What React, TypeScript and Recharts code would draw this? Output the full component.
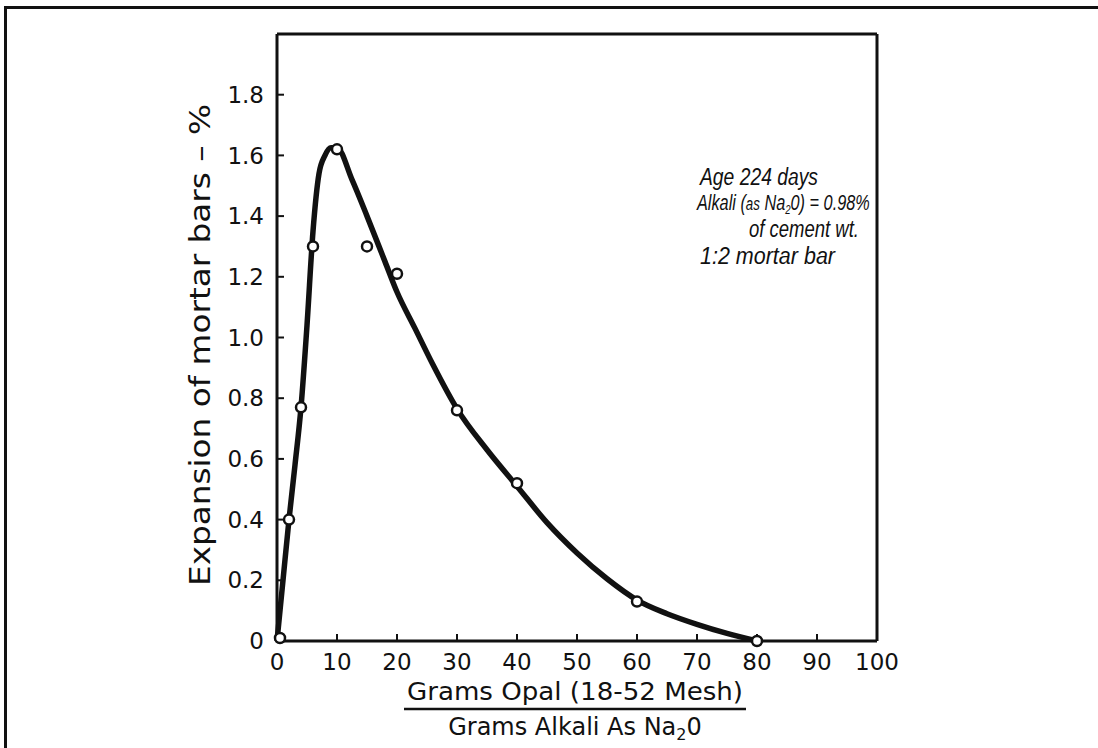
import React from "react";
import {
  ComposedChart,
  Line,
  Scatter,
  XAxis,
  YAxis,
} from "recharts";

// measured points (open circles)
const pointX = [0.5, 2, 4, 6, 10, 15, 20, 30, 40, 60, 80];
const pointY = [0.01, 0.4, 0.77, 1.3, 1.62, 1.3, 1.21, 0.76, 0.52, 0.13, 0.0];

// hand-drawn curve
const curveX = [0, 1, 2, 3, 4, 5, 6, 7, 8, 9, 10, 12.5, 15, 18, 20, 23, 26, 30, 35, 40, 45, 50, 55, 60, 65, 70, 75, 80];
const curveY = [0, 0.2, 0.4, 0.58, 0.77, 1.04, 1.35, 1.54, 1.6, 1.625, 1.625, 1.52, 1.4, 1.25, 1.15, 1.03, 0.91, 0.765, 0.63, 0.51, 0.39, 0.29, 0.205, 0.135, 0.09, 0.055, 0.025, 0];

const xTicks = [0, 10, 20, 30, 40, 50, 60, 70, 80, 90, 100];
const yTicks = [0, 0.2, 0.4, 0.6, 0.8, 1.0, 1.2, 1.4, 1.6, 1.8];

const points = pointX.map((x, i) => ({ x, y: pointY[i] }));
const curve = curveX.map((x, i) => ({ x, y: curveY[i] }));

const FONT = "'DejaVu Sans', Verdana, sans-serif";
const NOTE_FONT = "'Liberation Sans', Arial, sans-serif";
const INK = "#111";

function XTitle(props: any) {
  const vb = props.viewBox || {};
  const cx = vb.x + vb.width / 2 - 2;
  const top = vb.y;
  return (
    <g fontFamily={FONT} fill={INK}>
      <text x={cx} y={top + 59} fontSize={24} textAnchor="middle" textLength={336} lengthAdjust="spacingAndGlyphs">
        Grams  Opal (18-52 Mesh)
      </text>
      <line x1={cx - 171} x2={cx + 171} y1={top + 68} y2={top + 68} stroke={INK} strokeWidth={2.5} />
      <text x={cx} y={top + 94} fontSize={24} textAnchor="middle">
        Grams Alkali  As Na<tspan fontSize={16} dy={5}>2</tspan><tspan dy={-5}>0</tspan>
      </text>
    </g>
  );
}

function YTitle() {
  const cx = 200;
  const cy = 345;
  return (
    <text
      x={cx}
      y={cy}
      fontFamily={FONT}
      fontSize={29}
      fill={INK}
      textAnchor="middle"
      dominantBaseline="central"
      textLength={482}
      lengthAdjust="spacingAndGlyphs"
      transform={`rotate(-90 ${cx} ${cy})`}
    >
      Expansion of mortar bars – %
    </text>
  );
}

const Dot = (p: any) => (
  <circle cx={p.cx} cy={p.cy} r={5} fill="#fff" stroke={INK} strokeWidth={2.5} />
);

export default function App() {
  return (
    <div style={{ position: "fixed", left: 0, top: 0, width: 1098, height: 748, background: "#fff" }}>
      <div
        style={{
          position: "absolute",
          left: 4,
          top: 6,
          right: 0,
          bottom: 0,
          borderTop: `3px solid ${INK}`,
          borderLeft: `3px solid ${INK}`,
        }}
      />
      <ComposedChart
        width={1098}
        height={748}
        margin={{ top: 33, right: 220, bottom: 77, left: 217 }}
        style={{ position: "absolute", left: 0, top: 0 }}
      >
        <XAxis
          xAxisId="b"
          dataKey="x"
          type="number"
          domain={[0, 100]}
          ticks={xTicks}
          interval={0}
          height={30}
          tickSize={-7}
          tickMargin={20}
          tick={{ fill: INK, fontSize: 23, fontFamily: FONT }}
          axisLine={{ stroke: INK, strokeWidth: 3 }}
          tickLine={{ stroke: INK, strokeWidth: 2 }}
          label={{ content: XTitle }}
        />
        <XAxis
          xAxisId="t"
          orientation="top"
          dataKey="x"
          type="number"
          domain={[0, 100]}
          ticks={xTicks}
          interval={0}
          height={1}
          tickSize={-7}
          tick={false}
          axisLine={{ stroke: INK, strokeWidth: 3 }}
          tickLine={{ stroke: INK, strokeWidth: 2 }}
        />
        <YAxis
          yAxisId="l"
          dataKey="y"
          type="number"
          domain={[0, 2]}
          ticks={yTicks}
          interval={0}
          width={60}
          tickSize={-7}
          tickMargin={20}
          tickFormatter={(v: number) => (v === 0 ? "0" : v.toFixed(1))}
          tick={{ fill: INK, fontSize: 23, fontFamily: FONT }}
          axisLine={{ stroke: INK, strokeWidth: 3 }}
          tickLine={{ stroke: INK, strokeWidth: 2 }}
          label={{ content: YTitle }}
        />
        <YAxis
          yAxisId="r"
          orientation="right"
          dataKey="y"
          type="number"
          domain={[0, 2]}
          ticks={yTicks}
          interval={0}
          width={1}
          tickSize={-7}
          tick={false}
          axisLine={{ stroke: INK, strokeWidth: 3 }}
          tickLine={{ stroke: INK, strokeWidth: 2 }}
        />
        <Line
          xAxisId="b"
          yAxisId="l"
          data={curve}
          dataKey="y"
          type="monotone"
          stroke={INK}
          strokeWidth={5.5}
          dot={false}
          activeDot={false}
          isAnimationActive={false}
        />
        <Scatter
          xAxisId="t"
          yAxisId="r"
          data={points}
          dataKey="y"
          shape={Dot}
          isAnimationActive={false}
        />
      </ComposedChart>
      <svg
        width={1098}
        height={748}
        style={{ position: "absolute", left: 0, top: 0, pointerEvents: "none" }}
      >
        <g fontFamily={NOTE_FONT} fontStyle="italic" fontSize={23} fill={INK}>
          <text x={700} y={185} textLength={118} lengthAdjust="spacingAndGlyphs">Age 224 days</text>
          <text transform="translate(697 210) scale(0.74 1)" fontSize={22}>
            Alkali (<tspan fontSize={18}>as</tspan> Na<tspan fontSize={13} dy={4}>2</tspan>
            <tspan dy={-4}>0) = 0.98%</tspan>
          </text>
          <text x={749} y={237} textLength={110} lengthAdjust="spacingAndGlyphs">of cement wt.</text>
          <text x={700} y={264} textLength={135} lengthAdjust="spacingAndGlyphs">1:2 mortar bar</text>
        </g>
      </svg>
    </div>
  );
}
